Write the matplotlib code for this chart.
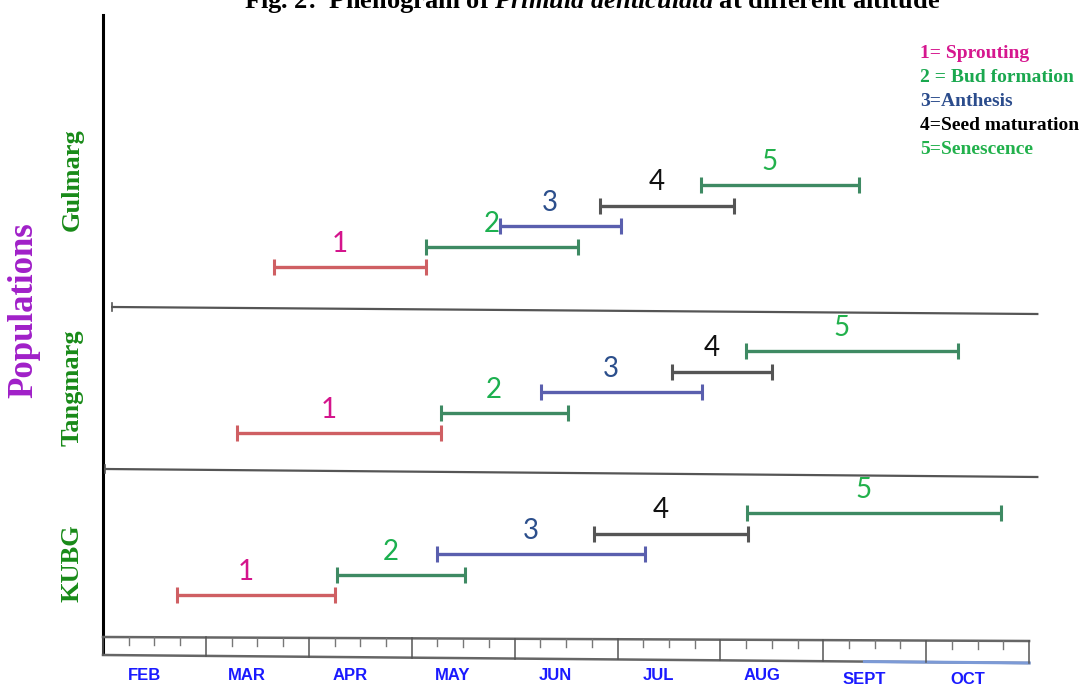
import matplotlib
matplotlib.use("Agg")
import matplotlib.pyplot as plt

plt.rcParams['mathtext.fontset'] = 'custom'
plt.rcParams['mathtext.rm'] = 'Liberation Serif:bold'
plt.rcParams['mathtext.it'] = 'Liberation Serif:italic:bold'

# data: months from start of FEB (0 = 1 Feb, 1 = 1 Mar, ...)
months = ["FEB", "MAR", "APR", "MAY", "JUN", "JUL", "AUG", "SEPT", "OCT"]
populations = ["Gulmarg", "Tangmarg", "KUBG"]
stages = ["1", "2", "3", "4", "5"]
stage_names = ["1= Sprouting", "2 = Bud formation", "3=Anthesis",
               "4=Seed maturation", "5=Senescence"]

gulmarg_start = [1.66, 3.14, 3.86, 4.83, 5.81]
gulmarg_end = [3.14, 4.62, 5.03, 6.13, 7.35]
tangmarg_start = [1.30, 3.28, 4.26, 5.53, 6.25]
tangmarg_end = [3.28, 4.52, 5.82, 6.50, 8.31]
kubg_start = [0.72, 2.27, 3.25, 4.77, 6.26]
kubg_end = [2.25, 3.52, 5.27, 6.27, 8.73]

starts = [gulmarg_start, tangmarg_start, kubg_start]
ends = [gulmarg_end, tangmarg_end, kubg_end]

# styles
bar_colors = ["#cf5f63", "#3e8a63", "#5a5fae", "#555555", "#3e8a63"]
num_colors = ["#d4148c", "#1cb04f", "#2c4f8c", "#111111", "#22b14c"]
legend_colors = ["#d6178f", "#1aa84f", "#2b4c8c", "#000000", "#22b14c"]

W, H = 1086, 686
X0, PPM = 103, 102.9  # pixel of month 0, pixels per month

fig = plt.figure(figsize=(W / 100, H / 100), dpi=100)
ax = fig.add_axes([0, 0, 1, 1])
ax.set_xlim(-X0 / PPM, (W - X0) / PPM)
ax.set_ylim(H, 0)
ax.axis('off')

band_base = [267, 433, 595]
step = 20.5

for p in range(3):
    for i in range(5):
        s, e = starts[p][i], ends[p][i]
        y = band_base[p] - i * step
        ax.plot([s, e], [y, y], color=bar_colors[i], lw=2.4, solid_capstyle='butt')
        ax.plot([s, e], [y, y], ls='none', marker='|', ms=11, mew=2.2,
                color=bar_colors[i])
        ax.text((s + e) / 2 - 0.1, y - 10, stages[i], color=num_colors[i],
                fontsize=20, family='Lato', ha='center', va='bottom')

# left axis
ax.plot([0, 0], [15, 652], color='black', lw=2.2)

# separators between populations
ax.plot([0.09, 9.08], [307, 314], color='#555555', lw=1.6)
ax.plot([0.09, 0.09], [303, 311], color='#555555', lw=1.2)
ax.plot([0.02, 9.08], [469, 477], color='#555555', lw=1.6)
ax.plot([0.02, 0.02], [465, 473], color='#555555', lw=1.2)

# month ruler
top0, top1, bot0, bot1 = 637, 641, 655, 663
n = len(months)
ax.plot([0, n], [top0, top1], color='#666666', lw=1.8)
ax.plot([0, n], [bot0, bot1], color='#666666', lw=1.8)
ax.plot([7.4, n], [bot0 + (bot1 - bot0) * 7.4 / n, bot1], color='#7c9ad6', lw=2.2)
for k in range(n + 1):
    yt = top0 + (top1 - top0) * k / n
    yb = bot0 + (bot1 - bot0) * k / n
    ax.plot([k, k], [yt, yb], color='#555555', lw=1.1)
for k in range(n):
    for q in (0.25, 0.5, 0.75):
        m = k + q
        yt = top0 + (top1 - top0) * m / n
        ax.plot([m, m], [yt, yt + 8], color='#777777', lw=1.0)
for k, lab in enumerate(months):
    dy = 5 if lab in ("SEPT", "OCT") else 0
    ax.text(k + 0.40, 675 + dy, lab, color='#1a1aff', fontsize=12,
            family='Liberation Sans', fontweight='bold', ha='center', va='center')

# population labels
ax.text(-0.77, 310, "Populations", rotation=90, color='#a020c8', fontsize=25,
        family='Liberation Serif', fontweight='bold', ha='center', va='center')
for p, (name, yc) in enumerate(zip(populations, [180, 388, 563])):
    ax.text(-0.30, yc, name, rotation=90, color='#188a18', fontsize=19,
            family='Liberation Serif', fontweight='bold', ha='center', va='center')

# legend text
for i, (txt, c) in enumerate(zip(stage_names, legend_colors)):
    ax.text((920 - X0) / PPM, 53 + 24 * i, txt, color=c, fontsize=14,
            family='Liberation Serif', fontweight='bold', ha='left', va='center')

# title (top cut off in the original)
fig.text(592 / W, 1 - 8 / H,
         r"Fig. 2:  Phenogram of $Primula\ denticulata$ at different altitude",
         fontsize=19, family='Liberation Serif', fontweight='bold',
         ha='center', va='baseline')

fig.savefig("out.png", dpi=100)
